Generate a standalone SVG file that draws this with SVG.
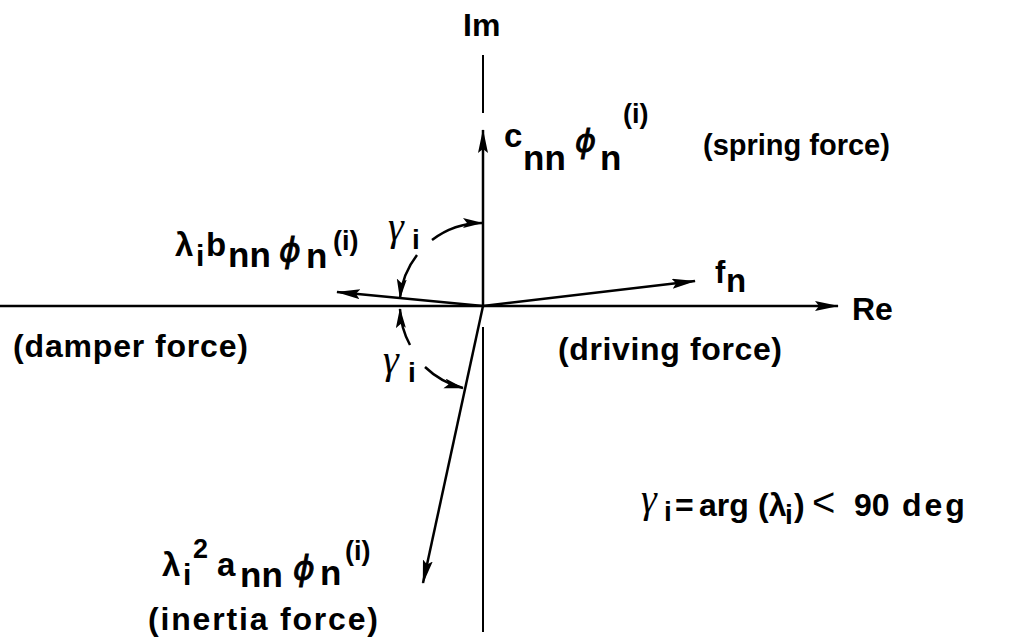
<svg xmlns="http://www.w3.org/2000/svg" width="1014" height="639" viewBox="0 0 1014 639">
<style>
.t{font-family:"Liberation Sans",Arial,"DejaVu Sans",sans-serif;font-weight:bold;fill:#000}
.g{font-family:"Liberation Serif","DejaVu Serif",serif;font-style:italic;font-weight:normal;fill:#000}
.p{font-family:"DejaVu Sans","Liberation Sans",sans-serif;font-style:oblique;font-weight:normal;fill:#000;stroke:#000;stroke-width:0.9}
.n{font-family:"Liberation Sans",Arial,sans-serif;font-weight:normal;fill:#000}
.ln{stroke:#000;fill:none;stroke-width:2.5}
.thin{stroke:#000;fill:none;stroke-width:2}
</style>
<defs>
<marker id="ah" markerUnits="userSpaceOnUse" markerWidth="26" markerHeight="12" refX="23" refY="5" orient="auto">
<path d="M0,0 L24,5 L0,10 L4,5 Z" fill="#000"/>
</marker>
<marker id="as" markerUnits="userSpaceOnUse" markerWidth="22" markerHeight="12" refX="19" refY="5" orient="auto">
<path d="M0,0 L20,5 L0,10 L4,5 Z" fill="#000"/>
</marker>
</defs>
<rect width="1014" height="639" fill="#fff"/>
<g id="connectors">
<line class="thin" x1="483" y1="55" x2="483" y2="113"/>
<line class="ln" x1="0" y1="306" x2="838" y2="306" marker-end="url(#ah)"/>
<line class="ln" x1="483" y1="306" x2="483" y2="130" marker-end="url(#ah)"/>
<line class="thin" x1="483" y1="327" x2="483" y2="632"/>
<line class="ln" x1="483" y1="306" x2="337" y2="292" marker-end="url(#ah)"/>
<line class="ln" x1="483" y1="306" x2="695" y2="281" marker-end="url(#ah)"/>
<line class="ln" x1="483" y1="306" x2="423" y2="583" marker-end="url(#ah)"/>
<path class="ln" d="M432,240 A83,83 0 0 1 482,223" marker-end="url(#as)"/>
<path class="ln" d="M417,255 A83,83 0 0 0 400,298" marker-end="url(#as)"/>
<path class="ln" d="M410,345 A83,83 0 0 1 400,309" marker-end="url(#as)"/>
<path class="ln" d="M425,367 A84,84 0 0 0 463,388" marker-end="url(#as)"/>
</g>
<g id="im"><text class="t" x="463" y="36" font-size="32">Im</text></g>
<g id="re"><text class="t" x="852" y="320" font-size="32">Re</text></g>
<g id="spring">
<text class="t" font-size="33"><tspan x="504" y="147">c</tspan><tspan x="523" y="170" font-size="35">nn</tspan><tspan class="p" x="575" y="152" font-size="32">ϕ</tspan><tspan x="600" y="170" font-size="35">n</tspan><tspan x="623" y="123" font-size="27">(i)</tspan></text>
<text class="t" x="703" y="155" font-size="29">(spring force)</text>
</g>
<g id="damper">
<text class="t" font-size="33"><tspan x="175" y="256">λ</tspan><tspan x="196" y="266" font-size="30">i</tspan><tspan x="206" y="256">b</tspan><tspan x="228" y="267" font-size="35">nn</tspan><tspan class="p" x="279" y="262" font-size="33">ϕ</tspan><tspan x="306" y="268" font-size="35">n</tspan><tspan x="333" y="250" font-size="27">(i)</tspan></text>
<text class="t" x="13" y="357" font-size="32" textLength="235" lengthAdjust="spacing">(damper force)</text>
</g>
<g id="driving">
<text class="t"><tspan x="715" y="283" font-size="31">f</tspan><tspan x="726" y="292" font-size="33">n</tspan></text>
<text class="t" x="558" y="360" font-size="32" textLength="224" lengthAdjust="spacing">(driving force)</text>
</g>
<g id="inertia">
<text class="t" font-size="33"><tspan x="162" y="576">λ</tspan><tspan x="183" y="585" font-size="30">i</tspan><tspan x="193" y="558" font-size="27">2</tspan><tspan x="217" y="576">a</tspan><tspan x="240" y="587" font-size="35">nn</tspan><tspan class="p" x="293" y="580" font-size="33">ϕ</tspan><tspan x="320" y="585" font-size="35">n</tspan><tspan x="345" y="560" font-size="27">(i)</tspan></text>
<text class="t" x="148" y="630" font-size="32" textLength="230" lengthAdjust="spacing">(inertia force)</text>
</g>
<g id="gamma-upper"><text font-size="40"><tspan class="g" x="388" y="240">γ</tspan><tspan class="t" x="412" y="249" font-size="28">i</tspan></text></g>
<g id="gamma-lower"><text font-size="40"><tspan class="g" x="383" y="373">γ</tspan><tspan class="t" x="408" y="382" font-size="28">i</tspan></text></g>
<g id="formula">
<text font-size="32"><tspan class="g" x="641" y="512" font-size="40">γ</tspan><tspan class="t" x="664" y="521" font-size="28">i</tspan><tspan class="t" x="675" y="516">=</tspan><tspan class="t" x="699" y="516">arg</tspan><tspan class="t" x="758" y="516">(λ</tspan><tspan class="t" x="785" y="524" font-size="28">i</tspan><tspan class="t" x="794" y="516">)</tspan><tspan class="n" x="812" y="516" font-size="40">&lt;</tspan><tspan class="t" x="854" y="516">90</tspan><tspan class="t" x="902" y="516" letter-spacing="3">deg</tspan></text>
</g>
</svg>
